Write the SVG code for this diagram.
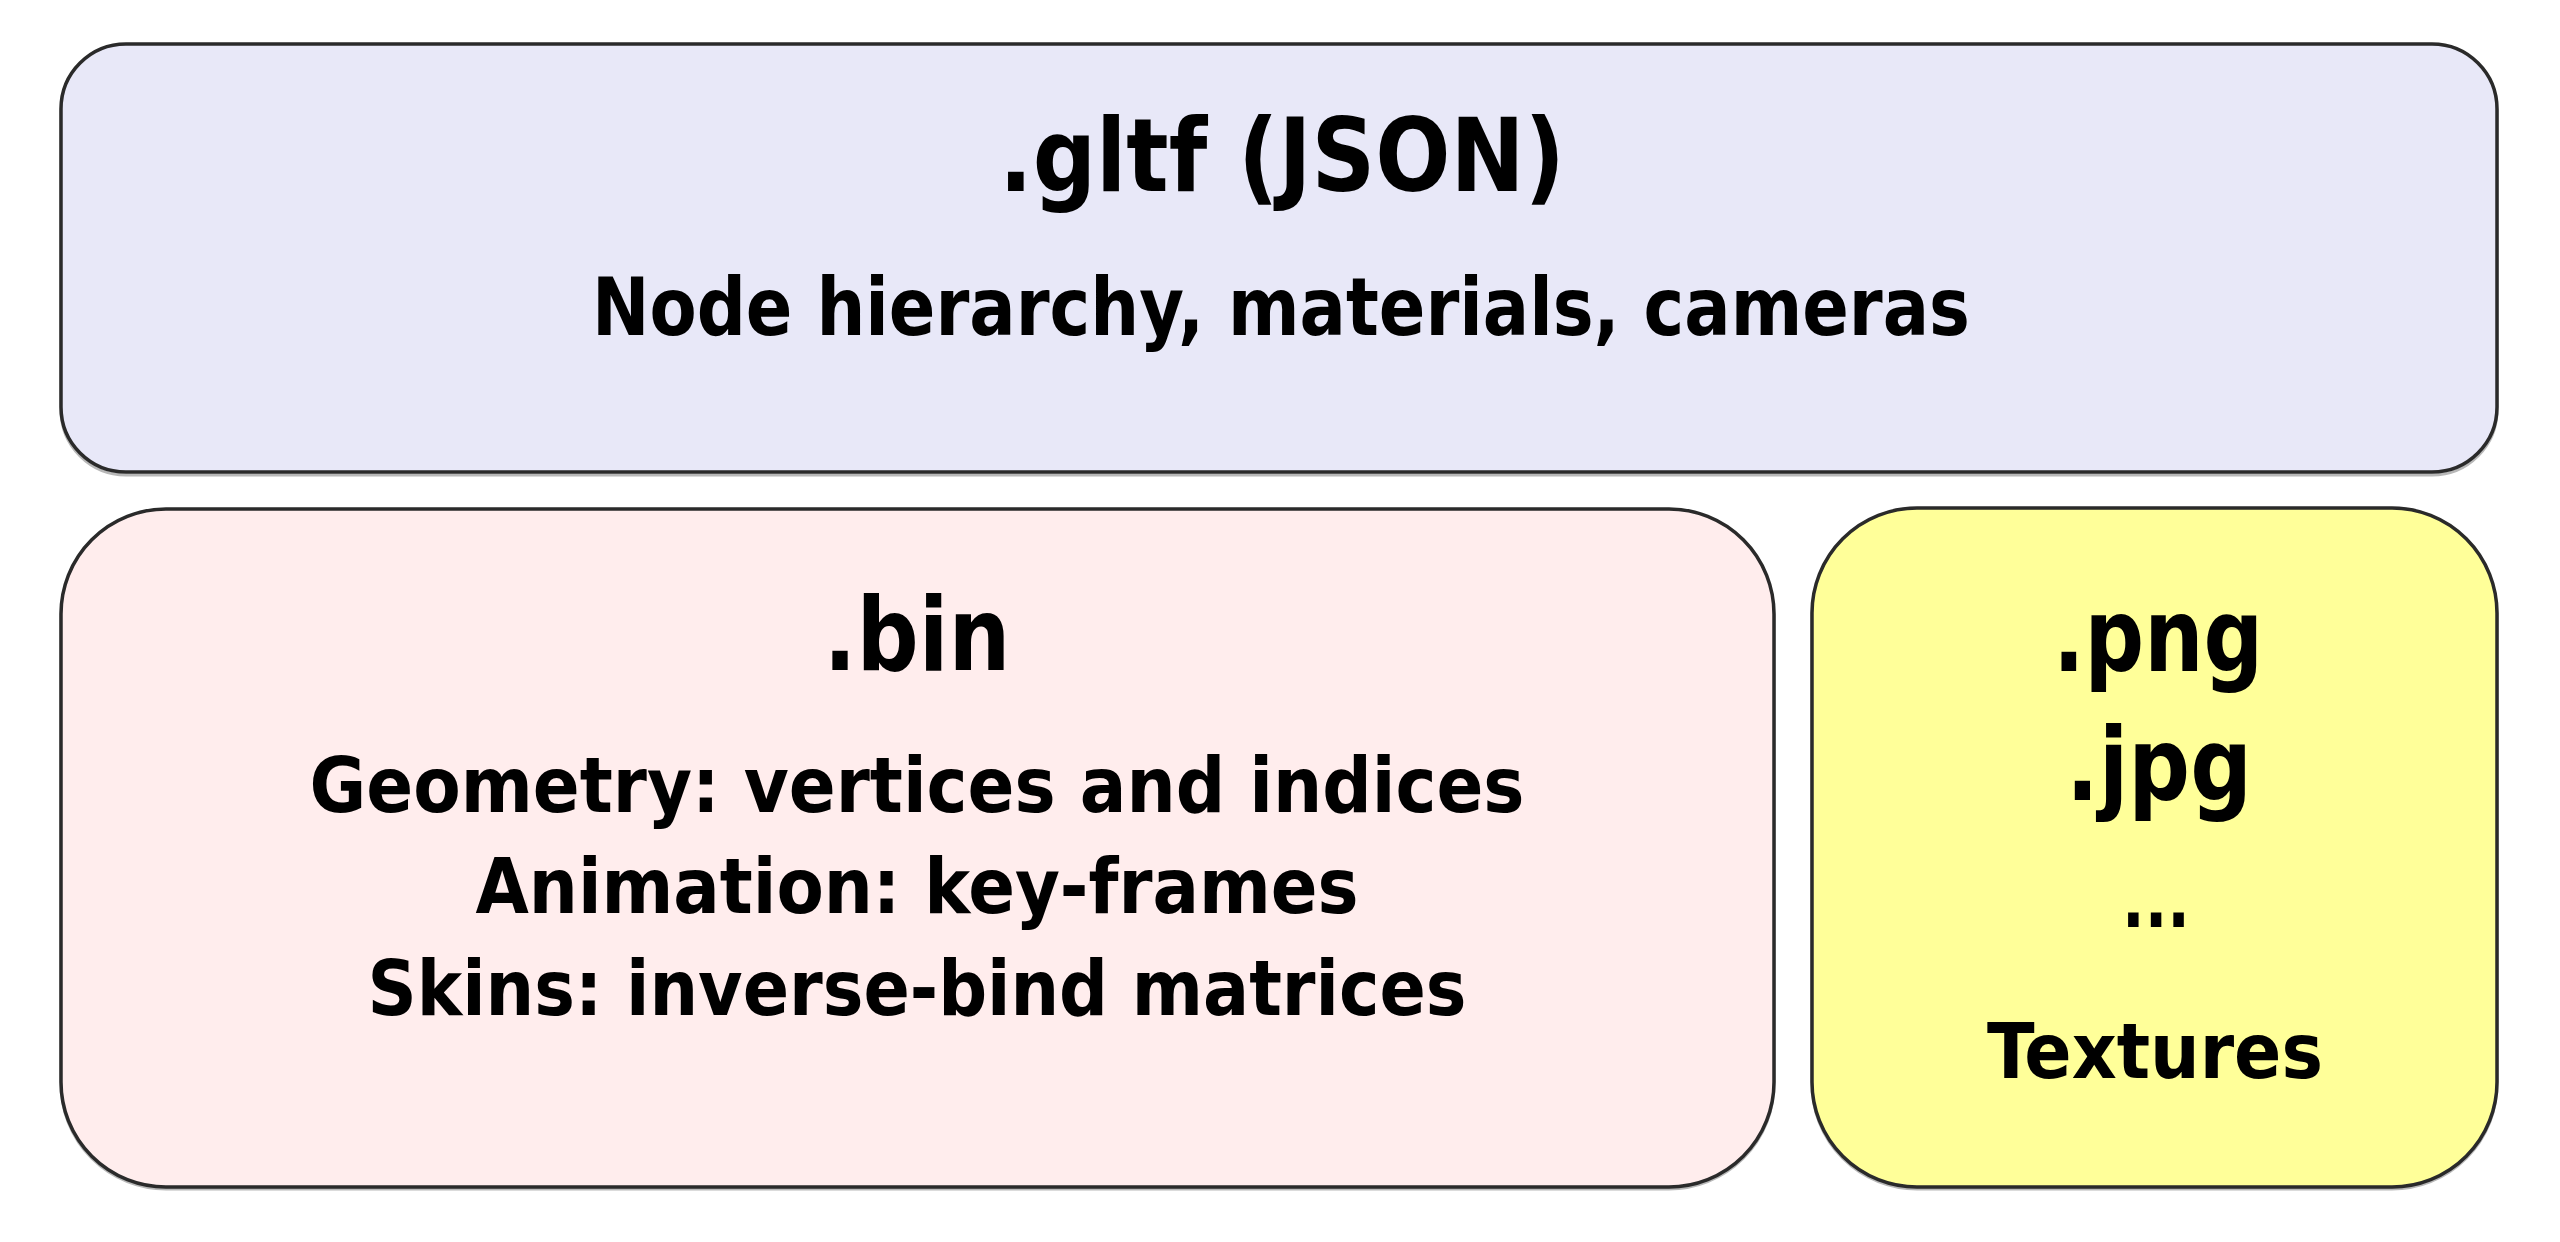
<svg xmlns="http://www.w3.org/2000/svg" width="2560" height="1242" viewBox="0 0 2560 1242">
<style>
.box{stroke:#2a2a2a;stroke-width:3.5}
.sh{fill:none;stroke:#b8b8b8;stroke-width:3}
text{font-family:"DejaVu Sans Condensed","DejaVu Sans",sans-serif;font-stretch:condensed;font-weight:bold;fill:#000;text-anchor:middle}
.big{font-size:102px}
.mid{font-size:80px}
.sm{font-size:77px}
</style>
<rect width="2560" height="1242" fill="#ffffff"/>
<g id="gltf">
<rect class="sh" x="61" y="46" width="2436" height="429" rx="65"/>
<rect class="box" x="61" y="44" width="2436" height="428" rx="65" fill="#e8e8f8"/>
<text class="big" x="1282" y="191" textLength="566" lengthAdjust="spacingAndGlyphs">.gltf (JSON)</text>
<text class="mid" x="1281" y="335" textLength="1378" lengthAdjust="spacingAndGlyphs">Node hierarchy, materials, cameras</text>
</g>
<g id="bin">
<rect class="sh" x="61" y="511" width="1713" height="678" rx="105"/>
<rect class="box" x="61" y="509" width="1713" height="678" rx="105" fill="#ffeded"/>
<text class="big" x="917" y="670" textLength="187" lengthAdjust="spacingAndGlyphs">.bin</text>
<text class="sm" x="917" y="812" textLength="1215" lengthAdjust="spacingAndGlyphs">Geometry: vertices and indices</text>
<text class="sm" x="917" y="913" textLength="883" lengthAdjust="spacingAndGlyphs">Animation: key-frames</text>
<text class="sm" x="917" y="1015" textLength="1099" lengthAdjust="spacingAndGlyphs">Skins: inverse-bind matrices</text>
</g>
<g id="textures">
<rect class="sh" x="1812" y="510" width="685" height="679" rx="105"/>
<rect class="box" x="1812" y="508" width="685" height="679" rx="105" fill="#ffff99"/>
<text class="big" x="2158" y="671" textLength="210" lengthAdjust="spacingAndGlyphs">.png</text>
<text class="big" x="2159" y="800" textLength="186" lengthAdjust="spacingAndGlyphs">.jpg</text>
<text class="sm" x="2156" y="927" textLength="68" lengthAdjust="spacingAndGlyphs">...</text>
<text class="sm" x="2155" y="1078" textLength="336" lengthAdjust="spacingAndGlyphs">Textures</text>
</g>
<g id="connectors"/>
</svg>
